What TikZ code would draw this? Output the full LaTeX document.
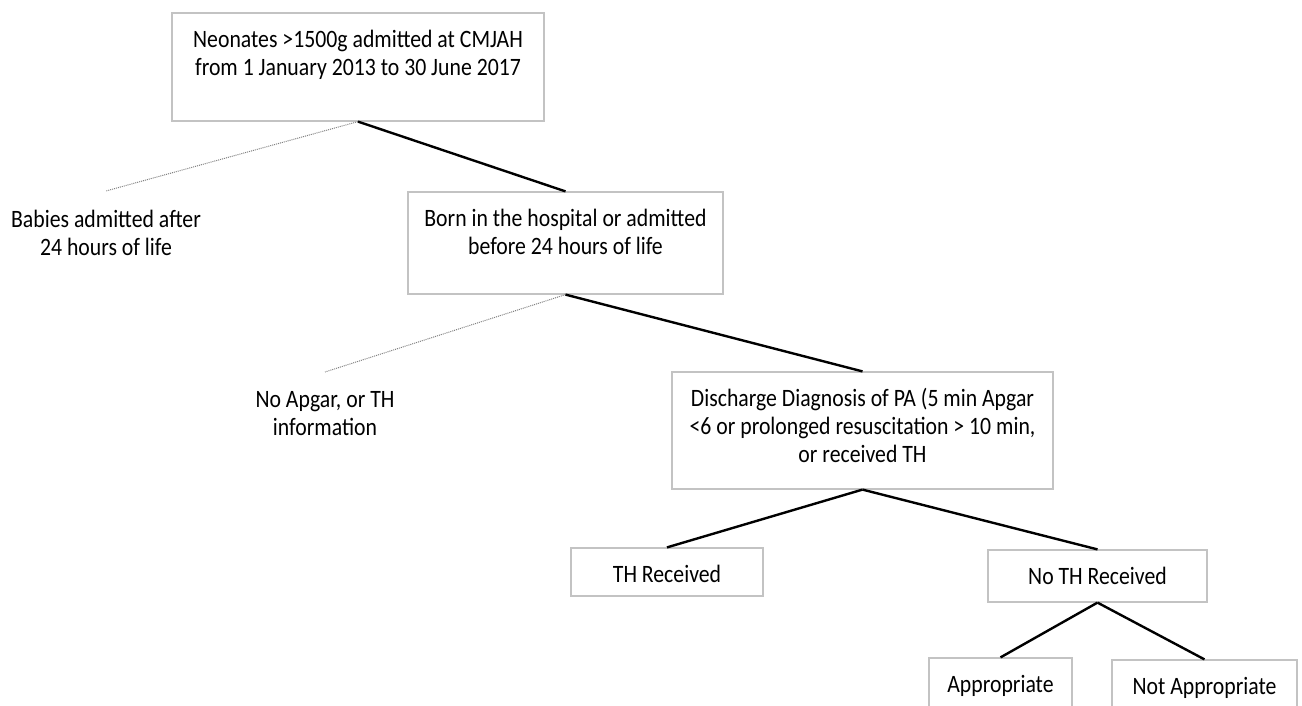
\documentclass[tikz,border=0pt]{standalone}
\usepackage{fontspec}
\setmainfont[FakeStretch=0.87]{Carlito}
\definecolor{boxgray}{RGB}{195,195,195}
\newcommand{\boxlines}[3]{\parbox[t][#1][t]{#2}{\centering\vspace*{15pt}\strut#3}}
\begin{document}
\begin{tikzpicture}[x=1pt,y=-1pt,
  font=\fontsize{25}{28}\selectfont,
  stage/.style={draw=boxgray,line width=1.2pt,inner sep=0pt},
  outcome/.style={align=center,anchor=north,inner xsep=0pt,inner ysep=19pt},
  branch/.style={line width=2.4pt},
  excluded/.style={densely dotted,gray,line width=1pt}]
\useasboundingbox (0,0) rectangle (1302,706);
\node[stage] (neonates) at (358,67) {\boxlines{108pt}{372pt}{Neonates >1500g admitted at CMJAH\\from 1 January 2013 to 30 June 2017}};
\node[stage] (born) at (565.5,243) {\boxlines{102pt}{315pt}{Born in the hospital or admitted\\before 24 hours of life}};
\node[stage] (discharge) at (862.5,430.5) {\boxlines{117pt}{381pt}{Discharge Diagnosis of PA (5 min Apgar\\<6 or prolonged resuscitation > 10 min,\\or received TH}};
\node[stage] (thrx) at (667,572) {\boxlines{48pt}{192pt}{TH Received}};
\node[stage] (nothrx) at (1097.5,576) {\boxlines{52pt}{219pt}{No TH Received}};
\node[stage] (appr) at (1000.5,683) {\boxlines{50pt}{143pt}{Appropriate}};
\node[stage] (notappr) at (1204.5,685) {\boxlines{50pt}{185pt}{Not Appropriate}};
\node[outcome] (babies) at (106,191) {Babies admitted after\\24 hours of life};
\node[outcome] (noapgar) at (325,372) {No Apgar, or TH\\information};
% excluded
\draw[excluded] (neonates.south) -- (babies.north);
\draw[excluded] (born.south) -- (noapgar.north);
% included
\draw[branch] (neonates.south) -- (born.north);
\draw[branch] (born.south) -- (discharge.north);
\draw[branch] (discharge.south) -- (thrx.north);
\draw[branch] (discharge.south) -- (nothrx.north);
\draw[branch] (nothrx.south) -- (appr.north);
\draw[branch] (nothrx.south) -- (notappr.north);
\end{tikzpicture}
\end{document}
